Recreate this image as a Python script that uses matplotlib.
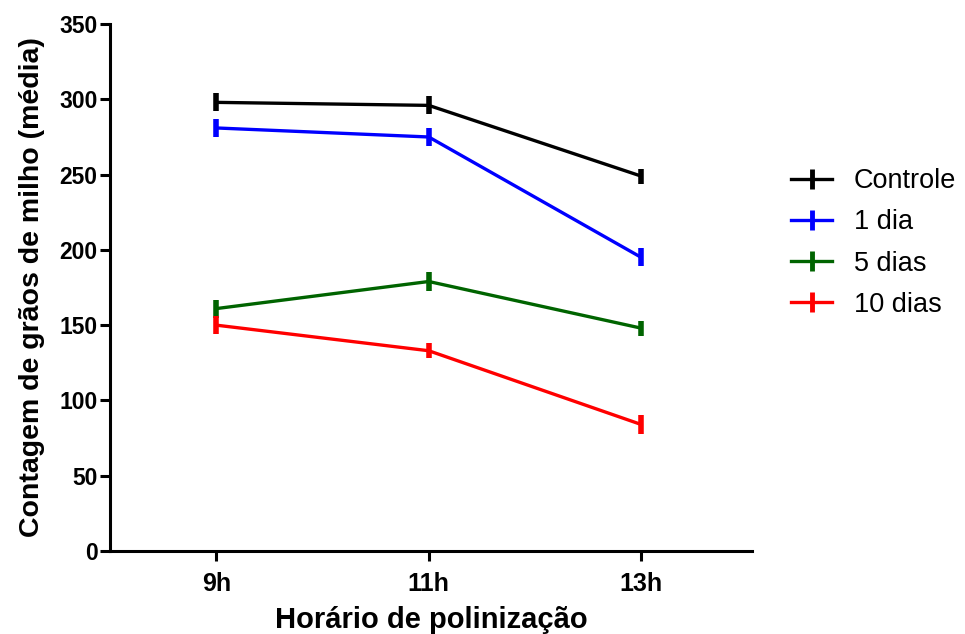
import numpy as np
import matplotlib.pyplot as plt
from matplotlib.lines import Line2D

plt.rcParams['font.family'] = ['Liberation Sans', 'DejaVu Sans']

horarios = ['9h', '11h', '13h']
series = ['Controle', '1 dia', '5 dias', '10 dias']
cores = ['black', '#0000ff', '#006400', '#ff0000']

controle = [298, 296, 249]
um_dia = [281, 275, 195]
cinco_dias = [161, 179, 148]
dez_dias = [150, 133, 84]
erros = [[6, 6, 5], [6, 6, 6], [6, 6, 5], [6, 5, 6]]

medias = [controle, um_dia, cinco_dias, dez_dias]

fig = plt.figure(figsize=(9.65, 6.34), dpi=100)
ax = fig.add_axes([0.114, 0.131, 0.665, 0.831])

x = np.arange(len(horarios))
for nome, cor, m, e in zip(series, cores, medias, erros):
    ax.plot(x, m, color=cor, lw=2.4, solid_capstyle='round', zorder=2)
    ax.errorbar(x, m, yerr=e, fmt='none', ecolor=cor, elinewidth=4,
                capsize=0, zorder=3)

ax.set_xlim(-0.5, 2.52)
ax.set_ylim(0, 350)
ax.set_yticks(range(0, 351, 50))
ax.set_xticks(x)
ax.set_xticklabels(horarios)

for s in ['top', 'right']:
    ax.spines[s].set_visible(False)
for s in ['left', 'bottom']:
    ax.spines[s].set_linewidth(2.2)

ax.tick_params(axis='both', width=2.2, length=7, pad=2)
ax.tick_params(axis='y', labelsize=16.5)
ax.tick_params(axis='x', labelsize=18, pad=8)
for lab in ax.get_xticklabels() + ax.get_yticklabels():
    lab.set_fontweight('bold')

ax.set_xlabel('Horário de polinização', fontsize=21, fontweight='bold', labelpad=7)
ax.set_ylabel('Contagem de grãos de milho (média)', fontsize=20.5, fontweight='bold', labelpad=10)

handles = [Line2D([0], [0], color=c, lw=2.4, marker='|', markersize=15,
                  markeredgewidth=3.5) for c in cores]
fig.legend(handles, series, loc='upper left', bbox_to_anchor=(0.806, 0.756),
           frameon=False, fontsize=19.5, handlelength=1.5, handletextpad=0.8,
           labelspacing=0.56, borderpad=0)

fig.savefig('out.png', dpi=100)
